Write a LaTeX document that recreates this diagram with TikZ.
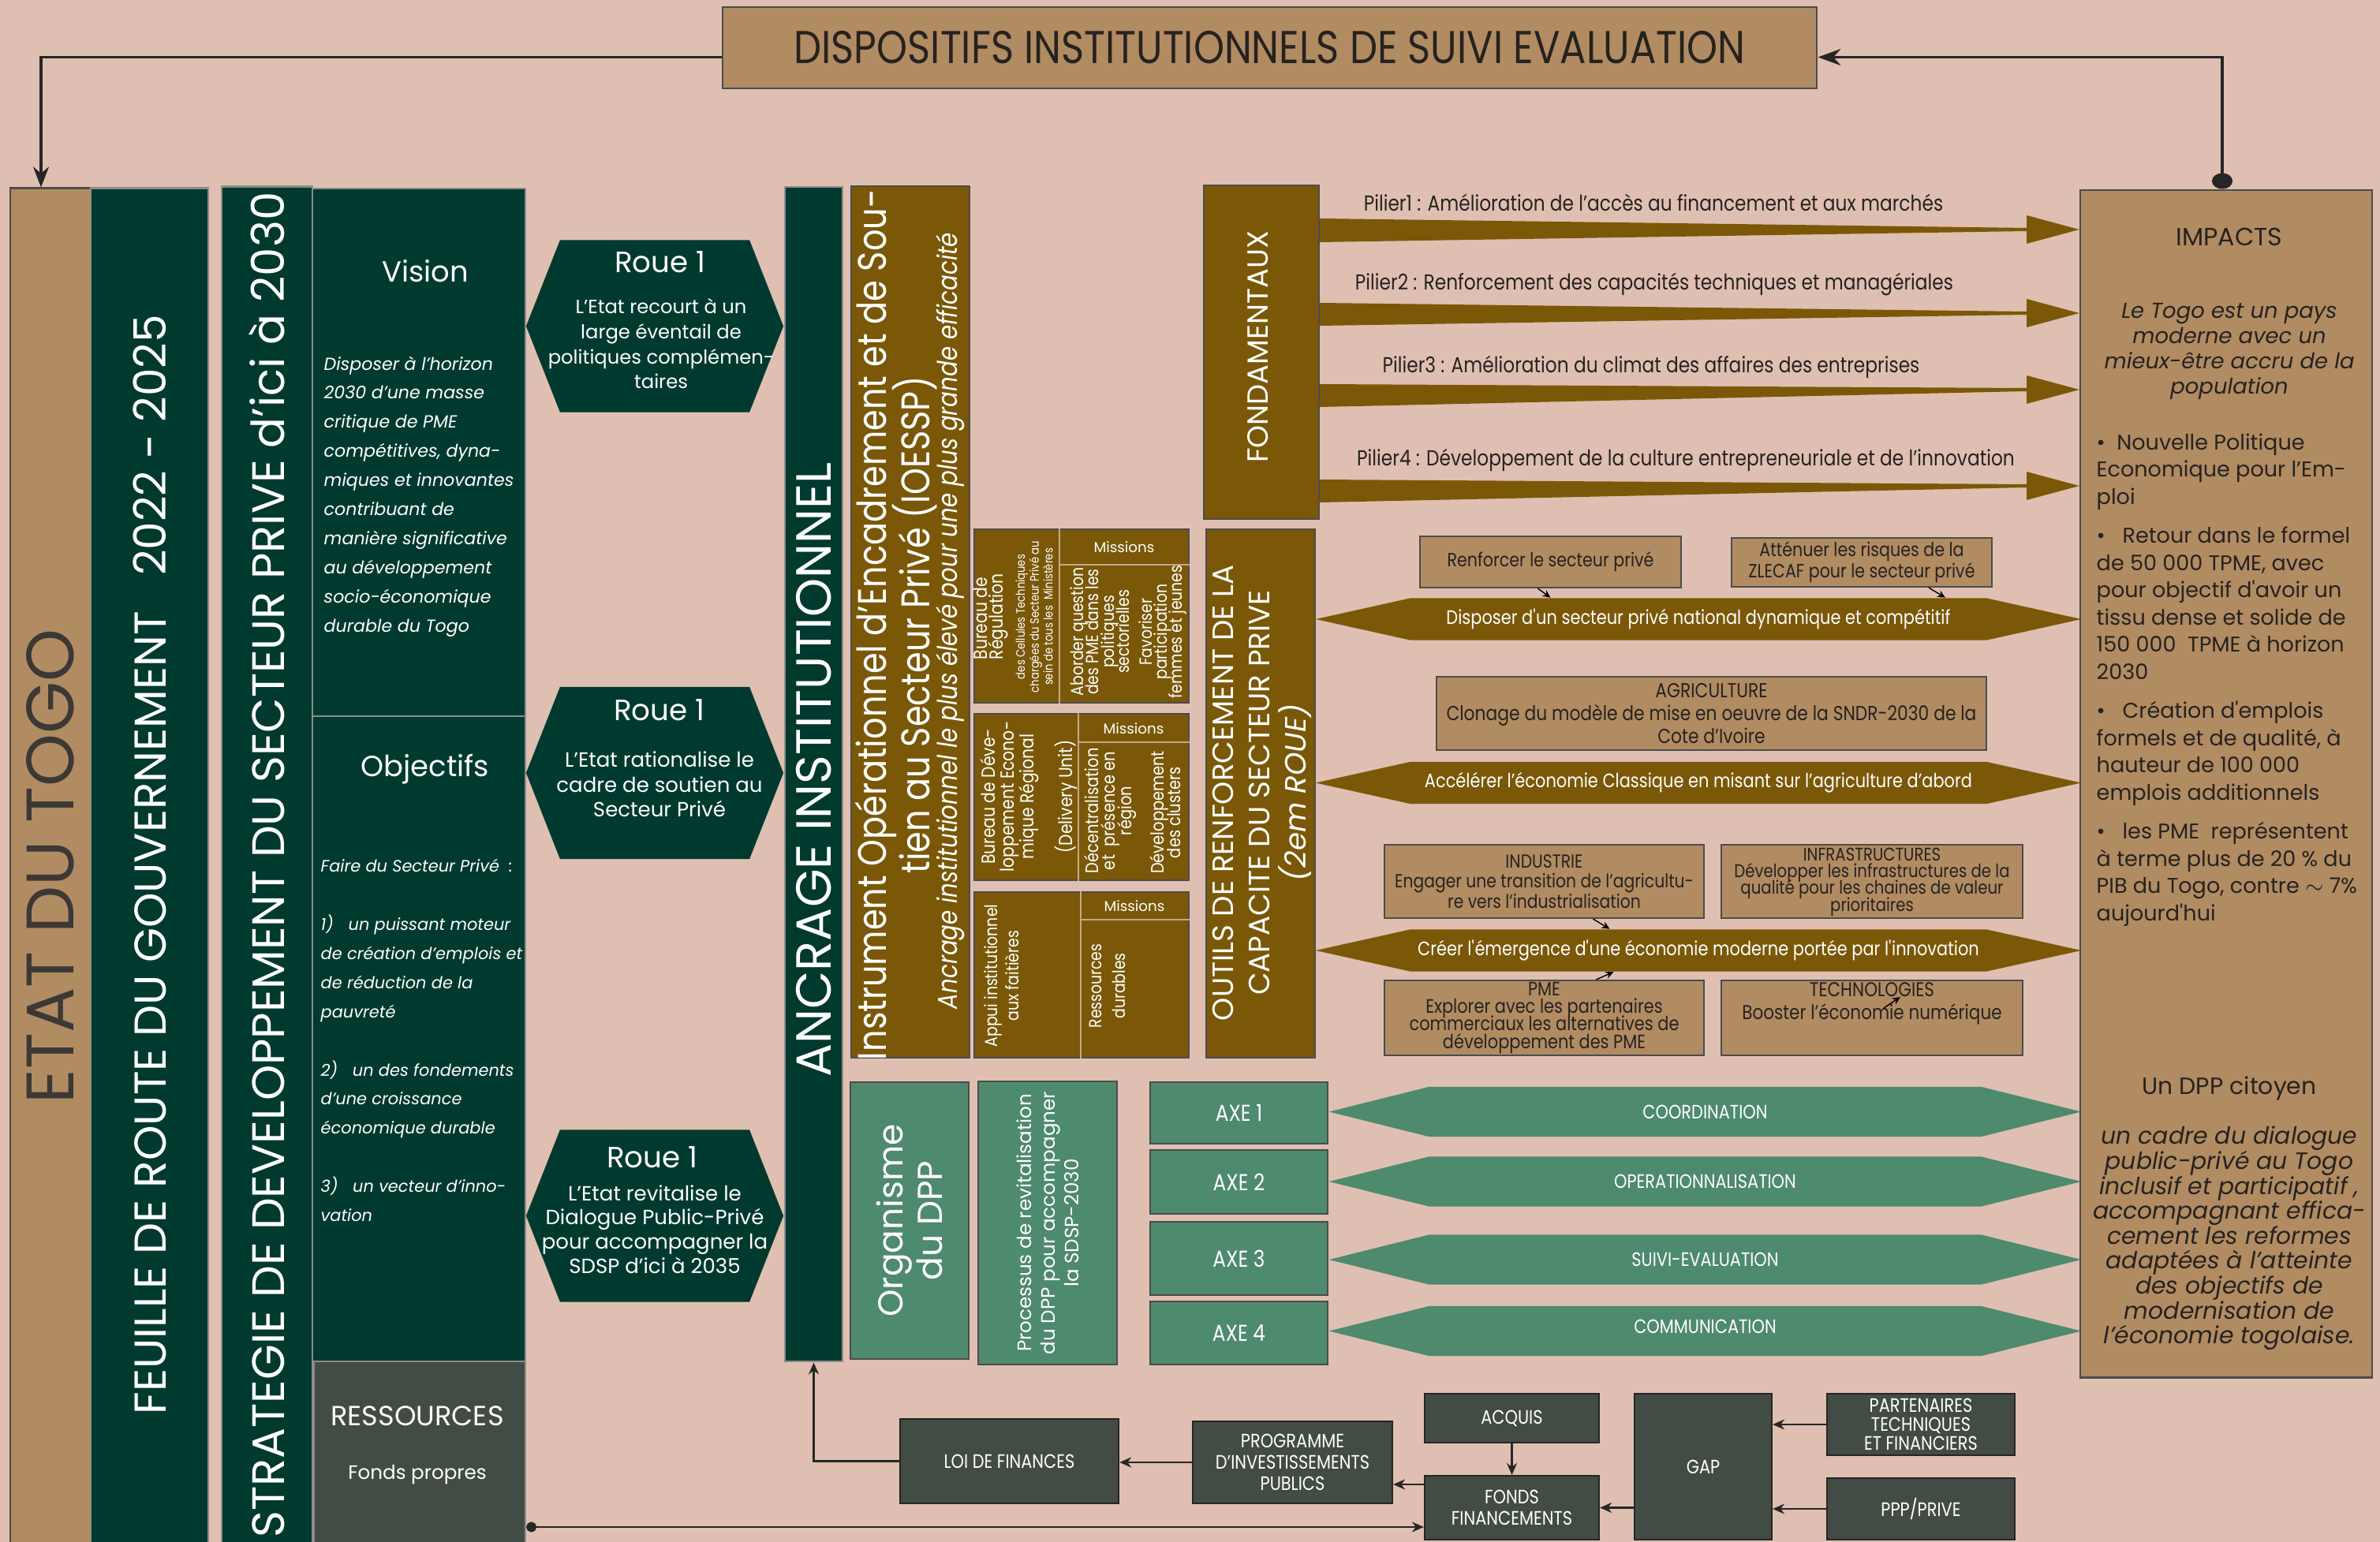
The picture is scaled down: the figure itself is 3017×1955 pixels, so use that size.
\documentclass[tikz,border=0pt]{standalone}
\usepackage{fontspec}
\setmainfont{Poppins}
\newfontfamily\condfont[FakeStretch=0.85]{Poppins}
\usetikzlibrary{arrows.meta,positioning,calc,shapes.symbols}
\setlength{\lineskiplimit}{-100pt}
\definecolor{bgpink}{HTML}{DFBFB1}
\definecolor{tanbrown}{HTML}{B18B62}
\definecolor{dkgreen}{HTML}{003A2F}
\definecolor{olivebr}{HTML}{7A5808}
\definecolor{midgreen}{HTML}{4E8A6E}
\definecolor{slategr}{HTML}{424C45}
\definecolor{inkdark}{HTML}{26221F}
\tikzset{
  tanbox/.style={rectangle, draw=black!70, line width=0.6pt, fill=tanbrown,
    text=inkdark, align=center, inner sep=0pt},
  darkbox/.style={rectangle, draw=black!45, line width=0.6pt, fill=dkgreen,
    text=white, align=center, inner sep=0pt},
  olivebox/.style={rectangle, draw=black!70, line width=0.6pt, fill=olivebr,
    text=white, align=center, inner sep=0pt},
  greenbox/.style={rectangle, draw=black!70, line width=0.6pt, fill=midgreen,
    text=white, align=center, inner sep=0pt},
  slatebox/.style={rectangle, draw=black!85, line width=0.6pt, fill=slategr,
    text=white, align=center, inner sep=0pt,
    font=\condfont\fontsize{7}{7.6}\selectfont},
  hexroue/.style={signal, signal to=east and west, signal pointer angle=137,
    fill=dkgreen, inner sep=0pt, minimum width=3.26cm, minimum height=2.18cm},
  hexolive/.style={signal, signal to=east and west, signal pointer angle=25,
    fill=olivebr, text=white, inner sep=0pt, minimum width=9.7cm,
    minimum height=0.53cm, font=\condfont\fontsize{7}{8}\selectfont},
  hexaxe/.style={signal, signal to=east and west, signal pointer angle=28,
    fill=midgreen, text=white, inner sep=0pt, minimum width=9.53cm,
    minimum height=0.63cm, font=\condfont\fontsize{7}{8}\selectfont},
  vtext/.style={rotate=90, align=center, inner sep=0pt},
  wtext/.style={text=white, inner sep=0pt, align=center},
  pillar/.style={text=inkdark, inner sep=0pt,
    font=\condfont\fontsize{7.8}{9}\selectfont},
  mission/.style={text=white, inner sep=0pt, font=\fontsize{5.2}{6}\selectfont},
  outilstxt/.style={font=\condfont\fontsize{6.9}{7.6}\selectfont},
  divline/.style={line width=0.5pt, tanbrown!75!white},
  arrlink/.style={-{Stealth[length=2.6mm,width=2mm]}, line width=0.9pt, black!85},
  arrflow/.style={-{Stealth[length=1.5mm,width=1.3mm]}, line width=0.6pt, black!85},
  arrtiny/.style={-{Stealth[length=1mm,width=0.9mm]}, line width=0.4pt, black},
}

\begin{document}
\begin{tikzpicture}[x=0.01cm, y=-0.01cm]

% ---------------- CANVAS ----------------
\fill[bgpink] (0,0) rectangle (3017,1955);
\useasboundingbox (0,0) rectangle (3017,1955);

% ---------------- TITLE ----------------
\node[tanbox, minimum width=13.87cm, minimum height=1.03cm,
  font=\condfont\fontsize{16.6}{19}\selectfont] (n-title) at (1609.5,60.5)
  {DISPOSITIFS INSTITUTIONNELS DE SUIVI EVALUATION};

% ---------------- LEFT COLUMNS ----------------
\node[tanbox, minimum width=1.02cm, minimum height=17.19cm] (n-etat) at (64,1098.5) {};
\node[vtext, text=inkdark!90, font=\fontsize{24.2}{28}\selectfont] (n-etat-txt) at (n-etat)
  {ETAT DU TOGO};
\node[darkbox, minimum width=1.49cm, minimum height=17.19cm] (n-feuille) at (189.5,1098.5) {};
\node[vtext, text=white, font=\fontsize{16.1}{19}\selectfont] (n-feuille-txt) at (189.5,1096)
  {FEUILLE DE ROUTE DU GOUVERNEMENT~~~2022 - 2025};
\node[darkbox, minimum width=1.15cm, minimum height=17.21cm] (n-strat) at (338.5,1097.5) {};
\node[vtext, text=white, font=\fontsize{16.4}{19}\selectfont] (n-strat-txt) at (338.5,1096.5)
  {STRATEGIE DE DEVELOPPEMENT DU SECTEUR PRIVE d’ici à 2030};

% ---------------- VISION / OBJECTIFS / RESSOURCES ----------------
\node[darkbox, minimum width=2.7cm, minimum height=6.69cm] (n-vision) at (531,573.5) {};
\node[wtext, font=\fontsize{10.5}{12}\selectfont] (n-vis-head) at (539,344) {Vision};
\node[wtext, align=left, anchor=west, font=\itshape\fontsize{6.3}{10.5}\selectfont]
  (n-vis-txt) at (410,629.5)
  {Disposer à l’horizon\\2030 d’une masse\\critique de PME\\compétitives, dyna-\\miques et innovantes\\
   contribuant de\\manière significative\\au développement\\socio-économique\\durable du Togo};
\node[darkbox, minimum width=2.7cm, minimum height=8.18cm] (n-obj) at (531,1317) {};
\node[wtext, font=\fontsize{10.5}{12}\selectfont] (n-obj-head) at (539,975) {Objectifs};
\node[wtext, align=left, anchor=west, font=\itshape\fontsize{5.95}{10.5}\selectfont]
  (n-obj-txt) at (406,1319)
  {Faire du Secteur Privé~~:\\[10.5pt]
   1)~~~un puissant moteur\\de création d’emplois et\\de réduction de la\\pauvreté\\[10.5pt]
   2)~~~un des fondements\\d’une croissance\\économique durable\\[10.5pt]
   3)~~~un vecteur d’inno-\\vation};
\node[darkbox, fill=slategr, minimum width=2.68cm, minimum height=2.32cm] (n-ress) at (532,1842) {};
\node[wtext, font=\fontsize{10}{12}\selectfont] (n-ress-head) at (529,1795) {RESSOURCES};
\node[wtext, font=\fontsize{7}{8}\selectfont] (n-ress-txt) at (529,1870) {Fonds propres};

% ---------------- ROUES ----------------
\node[hexroue] (n-roue1) at (830,413.5) {};
\node[wtext, font=\fontsize{10.6}{12}\selectfont] (n-roue1-head) at (837,332) {Roue 1};
\node[wtext, font=\fontsize{6.9}{9}\selectfont] (n-roue1-txt) at (838,436)
  {L’Etat recourt à un\\large éventail de\\politiques complémen-\\taires};
\node[hexroue] (n-roue2) at (830,980) {};
\node[wtext, font=\fontsize{10.6}{12}\selectfont] (n-roue2-head) at (836,900) {Roue 1};
\node[wtext, font=\fontsize{7.4}{9}\selectfont] (n-roue2-txt) at (836,994.5)
  {L’Etat rationalise le\\cadre de soutien au\\Secteur Privé};
\node[hexroue] (n-roue3) at (830,1541.5) {};
\node[wtext, font=\fontsize{10.6}{12}\selectfont] (n-roue3-head) at (827,1467) {Roue 1};
\node[wtext, font=\fontsize{7.4}{8.7}\selectfont] (n-roue3-txt) at (830,1558.5)
  {L’Etat revitalise le\\Dialogue Public-Privé\\pour accompagner la\\SDSP d’ici à 2035};

% ---------------- ANCRAGE / IOESSP ----------------
\node[darkbox, minimum width=0.73cm, minimum height=14.89cm] (n-ancrage) at (1031.5,981.5) {};
\node[vtext, text=white, font=\fontsize{17.8}{20}\selectfont] (n-ancrage-txt) at (1031.5,976)
  {ANCRAGE INSTITUTIONNEL};
\node[olivebox, minimum width=1.5cm, minimum height=11.05cm] (n-ioessp) at (1154,788.5) {};
\node[vtext, text=white, font=\condfont\fontsize{14.4}{17}\selectfont] (n-ioessp-l1) at (1110,792)
  {Instrument Opérationnel d’Encadrement et de Sou-};
\node[vtext, text=white, font=\condfont\fontsize{14.4}{17}\selectfont] (n-ioessp-l2) at (1160,792)
  {tien au Secteur Privé (IOESSP)};
\node[vtext, text=white, font=\condfont\itshape\fontsize{9.8}{12}\selectfont] (n-ioessp-l3) at (1205,787)
  {Ancrage institutionnel le plus élevé pour une plus grande efficacité};

% ---- missions block 1 ----
\node[olivebox, minimum width=2.72cm, minimum height=2.2cm] (n-blk1) at (1371,781) {};
\draw[divline] (n-blk1.north -| 1343,0) -- (n-blk1.south -| 1343,0);
\draw[divline] (1343,716) -- (n-blk1.east |- 0,716);
\node[mission] (n-mis1) at (1425,694) {Missions};
\node[vtext, anchor=west, align=left, text=white, font=\condfont\fontsize{6.8}{5.6}\selectfont]
  (n-bur1) at (1256,837) {Bureau de\\Régulation};
\node[vtext, text=white, font=\condfont\fontsize{4.4}{5}\selectfont] (n-bur1-sub) at (1311,782)
  {des Cellules Techniques\\chargées du Secteur Privé au\\sein de tous les~~Ministères};
\node[vtext, text=white, font=\condfont\fontsize{6.3}{5.5}\selectfont] (n-mis1-a) at (1394,801)
  {Aborder question\\des PME dans les\\politiques\\sectorielles};
\node[vtext, text=white, font=\condfont\fontsize{6.3}{5.5}\selectfont] (n-mis1-b) at (1474,801)
  {Favoriser\\participation\\femmes et jeunes};

% ---- missions block 2 ----
\node[olivebox, minimum width=2.72cm, minimum height=2.11cm] (n-blk2) at (1371,1010.5) {};
\draw[divline] (n-blk2.north -| 1367,0) -- (n-blk2.south -| 1367,0);
\draw[divline] (1367,941) -- (n-blk2.east |- 0,941);
\node[mission] (n-mis2) at (1437,924) {Missions};
\node[vtext, text=white, font=\condfont\fontsize{6.8}{7}\selectfont] (n-bur2) at (1304,1010)
  {Bureau de Déve-\\loppement Econo-\\mique Régional\\[7pt](Delivery Unit)};
\node[vtext, text=white, font=\condfont\fontsize{6.5}{6}\selectfont] (n-mis2-a) at (1408,1028)
  {Décentralisation\\et~~présence en\\région};
\node[vtext, text=white, font=\condfont\fontsize{6.5}{6}\selectfont] (n-mis2-b) at (1477,1030)
  {Développement\\des clusters};

% ---- missions block 3 ----
\node[olivebox, minimum width=2.72cm, minimum height=2.1cm] (n-blk3) at (1371,1236) {};
\draw[divline] (n-blk3.north -| 1370,0) -- (n-blk3.south -| 1370,0);
\draw[divline] (1370,1166) -- (n-blk3.east |- 0,1166);
\node[mission] (n-mis3) at (1438,1149) {Missions};
\node[vtext, text=white, font=\condfont\fontsize{6.3}{7.7}\selectfont] (n-bur3) at (1270,1237)
  {Appui institutionnel\\aux faitières};
\node[vtext, text=white, font=\condfont\fontsize{6.3}{8.5}\selectfont] (n-mis3-a) at (1404,1250)
  {Ressources\\durables};

% ---------------- FONDAMENTAUX / PILIERS ----------------
\node[olivebox, minimum width=1.46cm, minimum height=4.23cm] (n-fond) at (1599,446.5) {};
\node[vtext, text=white, font=\fontsize{10.5}{12}\selectfont] (n-fond-txt) at (1595,440) {FONDAMENTAUX};

% ---------------- IMPACTS ----------------
\node[tanbox, minimum width=3.7cm, minimum height=15.05cm] (n-impacts) at (2822,993.5) {};
\node[text=inkdark, inner sep=0pt, font=\fontsize{9}{11}\selectfont] (n-imp-head) at (2826,300) {IMPACTS};
\node[text=inkdark, inner sep=0pt, align=center, font=\itshape\fontsize{7.8}{9.1}\selectfont]
  (n-imp-vis) at (2826,446)
  {Le Togo est un pays\\moderne avec un\\mieux-être accru de la\\population};
\node[text=inkdark, inner sep=0pt, align=left, anchor=west, font=\fontsize{7.7}{9.85}\selectfont]
  (n-imp-list) at (2657,862)
  {•~~Nouvelle Politique\\Economique pour l’Em-\\ploi\\[4.1pt]
   •~~~Retour dans le formel\\de 50 000 TPME, avec\\pour objectif d\textquotesingle avoir un\\
   tissu dense et solide de\\150 000~~TPME à horizon\\2030\\[4.1pt]
   •~~~Création d\textquotesingle emplois\\formels et de qualité, à\\hauteur de 100 000\\
   emplois additionnels\\[4.1pt]
   •~~~les PME~~représentent\\à terme plus de 20 \% du\\PIB du Togo, contre $\sim$ 7\%\\
   aujourd\textquotesingle hui};
\node[text=inkdark, inner sep=0pt, font=\fontsize{8.5}{10}\selectfont] (n-imp-dpp) at (2826,1380)
  {Un DPP citoyen};
\node[text=inkdark, inner sep=0pt, align=center, font=\itshape\fontsize{8.5}{9}\selectfont]
  (n-imp-dpp-txt) at (2826,1570)
  {un cadre du dialogue\\public-privé au Togo\\inclusif et participatif ,\\accompagnant effica-\\
   cement les reformes\\adaptées à l’atteinte\\des objectifs de\\modernisation de\\
   l’économie togolaise.};

% ---- pillar arrows ----
\fill[olivebr] (n-fond.east |- 0,277) -- (2569,289) -- (2569,273) -- (n-impacts.west |- 0,291)
  -- (2569,309) -- (2569,293) -- (n-fond.east |- 0,307) -- cycle;
\fill[olivebr] (n-fond.east |- 0,384) -- (2569,395) -- (2569,379) -- (n-impacts.west |- 0,397)
  -- (2569,415) -- (2569,399) -- (n-fond.east |- 0,413) -- cycle;
\fill[olivebr] (n-fond.east |- 0,487) -- (2569,492) -- (2569,476) -- (n-impacts.west |- 0,494)
  -- (2569,512) -- (2569,496) -- (n-fond.east |- 0,516) -- cycle;
\fill[olivebr] (n-fond.east |- 0,608) -- (2569,614) -- (2569,598) -- (n-impacts.west |- 0,616)
  -- (2569,634) -- (2569,618) -- (n-fond.east |- 0,637) -- cycle;
\node[pillar] (n-p1) at (2096,257) {Pilier1 : Amélioration de l’accès au financement et aux marchés};
\node[pillar] (n-p2) at (2097,360) {Pilier2 : Renforcement des capacités techniques et managériales};
\node[pillar] (n-p3) at (2093,465) {Pilier3 : Amélioration du climat des affaires des entreprises};
\node[pillar] (n-p4) at (2137,583) {Pilier4 : Développement de la culture entrepreneuriale et de l’innovation};

% ---------------- OUTILS ----------------
\node[olivebox, minimum width=1.38cm, minimum height=6.7cm] (n-outils) at (1598,1006) {};
\node[vtext, text=white, font=\fontsize{10.6}{13}\selectfont] (n-outils-txt) at (1600,1005)
  {OUTILS DE RENFORCEMENT DE LA\\CAPACITE DU SECTEUR PRIVE\\{\itshape (2em ROUE)}};
\node[tanbox, outilstxt, minimum width=3.31cm, minimum height=0.65cm] (n-renf) at (1965.5,712.5)
  {Renforcer le secteur privé};
\node[tanbox, outilstxt, minimum width=3.3cm, minimum height=0.62cm] (n-zlecaf) at (2360,713)
  {Atténuer les risques de la\\ZLECAF pour le secteur privé};
\node[hexolive] (n-hex1) at (2153,785)
  {Disposer d\textquotesingle un secteur privé national dynamique et compétitif};
\node[tanbox, font=\condfont\fontsize{7.3}{8.2}\selectfont, minimum width=6.97cm, minimum height=0.93cm]
  (n-agri) at (2169.5,904.5)
  {AGRICULTURE\\Clonage du modèle de mise en oeuvre de la SNDR-2030 de la\\Cote d’Ivoire};
\node[hexolive] (n-hex2) at (2153,992.5)
  {Accélérer l’économie Classique en misant sur l’agriculture d’abord};
\node[tanbox, font=\condfont\fontsize{6.8}{7.2}\selectfont, minimum width=4.05cm, minimum height=0.93cm]
  (n-indus) at (1957.5,1117.5)
  {INDUSTRIE\\Engager une transition de l’agricultu-\\re vers l’industrialisation};
\node[tanbox, minimum width=3.82cm, minimum height=0.93cm] (n-infra) at (2373,1117.5) {};
\node[text=inkdark, inner sep=0pt, align=center, font=\condfont\fontsize{6.6}{6.1}\selectfont]
  (n-infra-txt) at (2373,1118)
  {INFRASTRUCTURES\\Développer les infrastructures de la\\qualité pour les chaines de valeur\\prioritaires};
\node[hexolive] (n-hex3) at (2153,1205)
  {Créer l\textquotesingle émergence d\textquotesingle une économie moderne portée par l\textquotesingle innovation};
\node[tanbox, font=\condfont\fontsize{7}{6.3}\selectfont, minimum width=4.05cm, minimum height=0.95cm]
  (n-pme) at (1957.5,1290.5)
  {PME\\Explorer avec les partenaires\\commerciaux les alternatives de\\développement des PME};
\node[tanbox, minimum width=3.82cm, minimum height=0.95cm] (n-techno) at (2373,1290.5) {};
\node[text=inkdark, inner sep=0pt, align=center, font=\condfont\fontsize{7.2}{8.2}\selectfont]
  (n-techno-txt) at (2373,1272) {TECHNOLOGIES\\Booster l’économie numérique};

\draw[arrtiny] ($(n-renf.south)+(-16,0)$) -- (n-renf.south |- n-hex1.north);
\draw[arrtiny] ($(n-zlecaf.south)+(85,0)$) -- ($(n-zlecaf.south |- n-hex1.north)+(106,0)$);
\draw[arrtiny] ($(n-indus.south)+(62,0)$) -- ($(n-indus.south |- n-hex3.north)+(83,0)$);
\draw[arrtiny] ($(n-pme.north)+(66,0)$) -- ($(n-pme.north |- n-hex3.south)+(88,0)$);
\draw[arrtiny] ($(n-techno.center)+(15,-12.5)$) -- ($(n-techno.center)+(36,-26.5)$);

% ---------------- DPP / AXES ----------------
\node[greenbox, minimum width=1.5cm, minimum height=3.51cm] (n-org) at (1153,1547.5) {};
\node[vtext, text=white, font=\fontsize{12.5}{14.2}\selectfont] (n-org-txt) at (n-org) {Organisme\\du DPP};
\node[greenbox, minimum width=1.76cm, minimum height=3.59cm] (n-proc) at (1328,1550.5) {};
\node[vtext, text=white, font=\fontsize{7}{8.5}\selectfont] (n-proc-txt) at (n-proc)
  {Processus de revitalisation\\du DPP pour accompagner\\la SDSP-2030};
\node[greenbox, font=\condfont\fontsize{8.3}{10}\selectfont, minimum width=2.25cm, minimum height=0.78cm]
  (n-axe1) at (1570.5,1411) {AXE 1};
\node[greenbox, font=\condfont\fontsize{8.3}{10}\selectfont, minimum width=2.25cm, minimum height=0.81cm]
  (n-axe2) at (1570.5,1498.5) {AXE 2};
\node[greenbox, font=\condfont\fontsize{8.3}{10}\selectfont, minimum width=2.25cm, minimum height=0.93cm]
  (n-axe3) at (1570.5,1595.5) {AXE 3};
\node[greenbox, font=\condfont\fontsize{8.3}{10}\selectfont, minimum width=2.25cm, minimum height=0.8cm]
  (n-axe4) at (1570.5,1690) {AXE 4};
\node[hexaxe] (n-coord) at (2161.5,1409.5) {COORDINATION};
\node[hexaxe] (n-oper) at (2161.5,1498) {OPERATIONNALISATION};
\node[hexaxe] (n-suivi) at (2161.5,1597) {SUIVI-EVALUATION};
\node[hexaxe] (n-comm) at (2161.5,1687.5) {\raisebox{3pt}{COMMUNICATION}};

% ---------------- FINANCEMENT ----------------
\node[slatebox, minimum width=2.77cm, minimum height=1.07cm] (n-loi) at (1279.5,1852.5) {LOI DE FINANCES};
\node[slatebox, minimum width=2.53cm, minimum height=1.04cm] (n-prog) at (1638.5,1854)
  {PROGRAMME\\D’INVESTISSEMENTS\\PUBLICS};
\node[slatebox, minimum width=2.21cm, minimum height=0.62cm] (n-acq) at (1916.5,1798) {ACQUIS};
\node[slatebox, minimum width=2.21cm, minimum height=0.81cm] (n-fonds) at (1916.5,1911.5)
  {FONDS\\FINANCEMENTS};
\node[slatebox, minimum width=1.74cm, minimum height=1.85cm] (n-gap) at (2159,1859.5) {GAP};
\node[slatebox, font=\condfont\fontsize{7}{6.8}\selectfont, minimum width=2.38cm, minimum height=0.78cm]
  (n-part) at (2435,1806) {PARTENAIRES\\TECHNIQUES\\ET FINANCIERS};
\node[slatebox, minimum width=2.38cm, minimum height=0.78cm] (n-ppp) at (2435,1913) {PPP/PRIVE};

% ---------------- CONNECTORS ----------------
\draw[arrlink] ($(n-title.west)+(0,12)$) -| ($(n-etat.north)+(-12,0)$);
\draw[{Circle[length=2mm,width=2.6mm]}-{Stealth[length=2.9mm,width=2.1mm]}, line width=0.9pt, black!85]
  ($(n-impacts.north)+(-5,0)$) |- ($(n-title.east)+(0,12)$);
\draw[arrflow] (n-loi.west) -| (n-ancrage.south);
\draw[arrflow] (n-prog.west) -- (n-loi.east |- n-prog.west);
\draw[arrflow] (n-fonds.west |- 0,1882) -- (n-prog.east |- 0,1882);
\draw[arrflow] (n-acq.south) -- (n-fonds.north);
\draw[arrflow] (n-gap.west |- n-fonds.east) -- (n-fonds.east);
\draw[arrflow] (n-part.west) -- (n-gap.east |- n-part.west);
\draw[arrflow] (n-ppp.west) -- (n-gap.east |- n-ppp.west);
\draw[{Circle[length=1.3mm]}-{Stealth[length=1.5mm,width=1.3mm]}, line width=0.6pt, black!85]
  (n-ress.east |- 0,1936) -- (n-fonds.west |- 0,1936);

\end{tikzpicture}
\end{document}
